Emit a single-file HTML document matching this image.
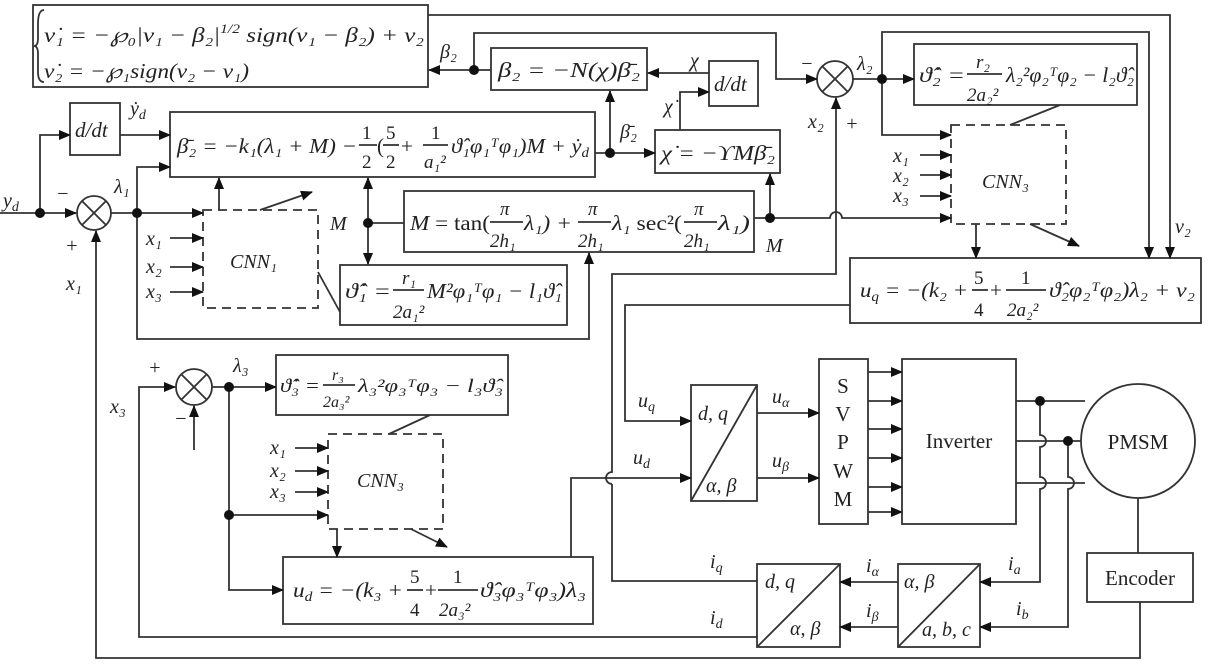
<!DOCTYPE html>
<html><head><meta charset="utf-8"><style>
html,body{margin:0;padding:0;background:#fff;}
svg{display:block;}
text{font-family:"Liberation Serif",serif;fill:#222;}
.i{font-style:italic;}
</style></head><body>
<svg width="1208" height="666" viewBox="0 0 1208 666" xmlns="http://www.w3.org/2000/svg">
<defs>
<marker id="a" markerWidth="12" markerHeight="10" refX="11" refY="5" orient="auto" markerUnits="userSpaceOnUse">
<path d="M0,0 L12,5 L0,10 Z" fill="#111"/></marker>
</defs>
<g stroke="#333" stroke-width="1.8" fill="none">
<!-- boxes -->
<rect x="33" y="5" width="395" height="82"/>
<rect x="491" y="48" width="156" height="42"/>
<rect x="709" y="61" width="49" height="45"/>
<rect x="655" y="130" width="125" height="43"/>
<rect x="70" y="103" width="50" height="52"/>
<rect x="170" y="112" width="425" height="65"/>
<rect x="404" y="191" width="350" height="61"/>
<rect x="340" y="265" width="227" height="60"/>
<rect x="914" y="44" width="223" height="61"/>
<rect x="850" y="258" width="351" height="65"/>
<rect x="276" y="355" width="232" height="60"/>
<rect x="283" y="557" width="310" height="67"/>
<rect x="691" y="385" width="66" height="116"/>
<rect x="819" y="359" width="49" height="165"/>
<rect x="902" y="359" width="114" height="165"/>
<rect x="757" y="564" width="83" height="83"/>
<rect x="898" y="564" width="82" height="83"/>
<rect x="1087" y="553" width="106" height="49"/>
<circle cx="1138" cy="441" r="57"/>
<line x1="691" y1="501" x2="757" y2="385"/>
<line x1="757" y1="647" x2="840" y2="564"/>
<line x1="898" y1="647" x2="980" y2="564"/>
<!-- dashed CNNs -->
<rect x="203" y="210" width="115" height="98" stroke-dasharray="9,6"/>
<rect x="951" y="125" width="115" height="99" stroke-dasharray="9,6"/>
<rect x="328" y="434" width="115" height="95" stroke-dasharray="9,6"/>
<!-- summers -->
<circle cx="94" cy="213" r="17"/><line x1="82" y1="201" x2="106" y2="225"/><line x1="106" y1="201" x2="82" y2="225"/>
<circle cx="835" cy="79" r="18"/><line x1="822" y1="66" x2="848" y2="92"/><line x1="848" y1="66" x2="822" y2="92"/>
<circle cx="194" cy="387" r="18"/><line x1="181" y1="374" x2="207" y2="400"/><line x1="207" y1="374" x2="181" y2="400"/>

<!-- top wiring -->
<polyline points="428,15 1170,15 1170,258" marker-end="url(#a)"/>
<polyline points="474,70 474,33 776,33 776,79 817,79" marker-end="url(#a)"/>
<line x1="491" y1="70" x2="429" y2="70" marker-end="url(#a)"/>
<line x1="709" y1="73" x2="648" y2="73" marker-end="url(#a)"/>
<polyline points="680,130 680,92 709,92" marker-end="url(#a)"/>
<line x1="610" y1="153" x2="610" y2="91" marker-end="url(#a)"/>
<line x1="595" y1="153" x2="655" y2="153" marker-end="url(#a)"/>
<line x1="770" y1="218" x2="770" y2="174" marker-end="url(#a)"/>
<line x1="754" y1="218" x2="770" y2="218"/>
<path d="M770,218 L830,218 A6,6 0 0 1 842,218 L951,218" marker-end="url(#a)"/>
<line x1="853" y1="79" x2="914" y2="79" marker-end="url(#a)"/>
<polyline points="882,79 882,32 1149,32 1149,258" marker-end="url(#a)"/>
<polyline points="882,79 882,135 951,135" marker-end="url(#a)"/>
<line x1="920" y1="155" x2="951" y2="155" marker-end="url(#a)"/>
<line x1="920" y1="175" x2="951" y2="175" marker-end="url(#a)"/>
<line x1="920" y1="196" x2="951" y2="196" marker-end="url(#a)"/>
<line x1="1060" y1="105" x2="1010" y2="125"/>
<line x1="976" y1="224" x2="976" y2="258" marker-end="url(#a)"/>
<line x1="1030" y1="224" x2="1079" y2="246" marker-end="url(#a)"/>
<!-- x2 / iq path -->
<polyline points="757,581 612,581 612,484"/>
<path d="M612,484 A6,6 0 0 1 612,472 L612,274 L836,274 L836,98" marker-end="url(#a)"/>
<!-- uq -->
<polyline points="850,305 625,305 625,421 691,421" marker-end="url(#a)"/>
<!-- left top -->
<line x1="0" y1="213" x2="76" y2="213" marker-end="url(#a)"/>
<polyline points="40,213 40,135 70,135" marker-end="url(#a)"/>
<line x1="120" y1="135" x2="170" y2="135" marker-end="url(#a)"/>
<line x1="111" y1="213" x2="203" y2="213" marker-end="url(#a)"/>
<polyline points="137,213 137,167 170,167" marker-end="url(#a)"/>
<polyline points="137,213 137,339 589,339 589,253" marker-end="url(#a)"/>
<line x1="170" y1="238" x2="203" y2="238" marker-end="url(#a)"/>
<line x1="170" y1="267" x2="203" y2="267" marker-end="url(#a)"/>
<line x1="170" y1="292" x2="203" y2="292" marker-end="url(#a)"/>
<line x1="219" y1="210" x2="219" y2="178" marker-end="url(#a)"/>
<line x1="260" y1="210" x2="312" y2="192" marker-end="url(#a)"/>
<line x1="318" y1="272" x2="340" y2="312"/>
<line x1="368" y1="223" x2="404" y2="223"/>
<line x1="368" y1="223" x2="368" y2="178" marker-end="url(#a)"/>
<line x1="368" y1="223" x2="368" y2="264" marker-end="url(#a)"/>
<!-- x1 feedback -->
<polyline points="1140,602 1140,658 96,658 96,231" marker-end="url(#a)"/>
<!-- bottom left -->
<polyline points="757,637 139,637 139,387 175,387" marker-end="url(#a)"/>
<line x1="194" y1="450" x2="194" y2="406" marker-end="url(#a)"/>
<line x1="212" y1="387" x2="276" y2="387" marker-end="url(#a)"/>
<polyline points="229,387 229,590 283,590" marker-end="url(#a)"/>
<line x1="229" y1="515" x2="328" y2="515" marker-end="url(#a)"/>
<line x1="295" y1="448" x2="328" y2="448" marker-end="url(#a)"/>
<line x1="295" y1="471" x2="328" y2="471" marker-end="url(#a)"/>
<line x1="295" y1="492" x2="328" y2="492" marker-end="url(#a)"/>
<line x1="430" y1="415" x2="389" y2="434"/>
<line x1="337" y1="529" x2="337" y2="557" marker-end="url(#a)"/>
<line x1="411" y1="529" x2="447" y2="547" marker-end="url(#a)"/>
<polyline points="571,557 571,478 691,478" marker-end="url(#a)"/>
<!-- drive -->
<line x1="757" y1="413" x2="819" y2="413" marker-end="url(#a)"/>
<line x1="757" y1="478" x2="819" y2="478" marker-end="url(#a)"/>
<line x1="868" y1="372" x2="902" y2="372" marker-end="url(#a)"/>
<line x1="868" y1="401" x2="902" y2="401" marker-end="url(#a)"/>
<line x1="868" y1="429" x2="902" y2="429" marker-end="url(#a)"/>
<line x1="868" y1="458" x2="902" y2="458" marker-end="url(#a)"/>
<line x1="868" y1="487" x2="902" y2="487" marker-end="url(#a)"/>
<line x1="868" y1="512" x2="902" y2="512" marker-end="url(#a)"/>
<line x1="1016" y1="401" x2="1085" y2="401"/>
<line x1="1016" y1="441" x2="1081" y2="441"/>
<line x1="1016" y1="483" x2="1085" y2="483"/>
<path d="M1040,401 L1040,435 A6,6 0 0 1 1040,447 L1040,477 A6,6 0 0 1 1040,489 L1040,582 L980,582" marker-end="url(#a)"/>
<path d="M1068,441 L1068,477 A6,6 0 0 1 1068,489 L1068,627 L980,627" marker-end="url(#a)"/>
<line x1="1138" y1="498" x2="1138" y2="553"/>
<line x1="898" y1="582" x2="840" y2="582" marker-end="url(#a)"/>
<line x1="898" y1="627" x2="840" y2="627" marker-end="url(#a)"/>
<!-- fraction bars -->
<line x1="359" y1="145" x2="377" y2="145"/><line x1="383" y1="145" x2="399" y2="145"/><line x1="423" y1="145" x2="448" y2="145"/>
<line x1="490" y1="222" x2="523" y2="222"/><line x1="578" y1="222" x2="611" y2="222"/><line x1="684" y1="222" x2="717" y2="222"/>
<line x1="393" y1="290" x2="424" y2="290"/>
<line x1="967" y1="74" x2="1002" y2="74"/>
<line x1="972" y1="290" x2="988" y2="290"/><line x1="1006" y1="290" x2="1046" y2="290"/>
<line x1="323" y1="385" x2="355" y2="385"/>
<line x1="407" y1="590" x2="423" y2="590"/><line x1="438" y1="590" x2="478" y2="590"/>
<path d="M44,10 Q38,10 38,24 L38,38 Q38,46 34,46 Q38,46 38,54 L38,72 Q38,82 44,82"/>
</g>
<g fill="#111">
<circle cx="474" cy="70" r="5"/><circle cx="610" cy="153" r="5"/><circle cx="770" cy="218" r="5"/>
<circle cx="882" cy="79" r="5"/><circle cx="40" cy="213" r="5"/><circle cx="137" cy="213" r="5"/>
<circle cx="368" cy="223" r="5"/><circle cx="229" cy="387" r="5"/><circle cx="229" cy="515" r="5"/>
<circle cx="1040" cy="401" r="5"/><circle cx="1068" cy="441" r="5"/>
</g>
<g font-size="21">
<text x="44" y="42" class="i" textLength="380" lengthAdjust="spacingAndGlyphs">ν̇₁ = −℘₀|ν₁ − β₂|<tspan font-size="13" dy="-9">1/2</tspan><tspan dy="9"> sign(ν₁ − β₂) + ν₂</tspan></text>
<text x="44" y="78" class="i" textLength="205" lengthAdjust="spacingAndGlyphs">ν̇₂ = −℘₁sign(ν₂ − ν₁)</text>
<text x="498" y="77" class="i" textLength="142" lengthAdjust="spacingAndGlyphs">β₂ = −N(χ)β̄₂</text>
<text x="714" y="91" class="i">d/dt</text>
<text x="75" y="137" class="i">d/dt</text>
<text x="661" y="160" class="i" textLength="114" lengthAdjust="spacingAndGlyphs">χ̇ = −ϒMβ̄₂</text>
<text x="177" y="153" class="i" textLength="180" lengthAdjust="spacingAndGlyphs">β̄₂ = −k₁(λ₁ + M) −</text>
<text x="362" y="139" font-size="19">1</text><text x="362" y="168" font-size="19">2</text>
<text x="377" y="153">(</text>
<text x="386" y="139" font-size="19">5</text><text x="386" y="168" font-size="19">2</text>
<text x="401" y="153">+</text>
<text x="431" y="139" font-size="19">1</text><text x="424" y="168" font-size="19" class="i">a₁²</text>
<text x="451" y="153" class="i" textLength="138" lengthAdjust="spacingAndGlyphs">ϑ̂₁φ₁ᵀφ₁)M + ẏ<tspan font-size="14" dy="4">d</tspan></text>
<text x="410" y="230" textLength="80" lengthAdjust="spacingAndGlyphs"><tspan class="i">M</tspan> = tan(</text>
<text x="500" y="215" font-size="19" class="i">π</text><text x="490" y="247" font-size="19" class="i">2h₁</text>
<text x="524" y="230" class="i" textLength="48" lengthAdjust="spacingAndGlyphs">λ₁) +</text>
<text x="588" y="215" font-size="19" class="i">π</text><text x="578" y="247" font-size="19" class="i">2h₁</text>
<text x="612" y="230" textLength="70" lengthAdjust="spacingAndGlyphs"><tspan class="i">λ₁</tspan> sec²(</text>
<text x="694" y="215" font-size="19" class="i">π</text><text x="684" y="247" font-size="19" class="i">2h₁</text>
<text x="718" y="230" class="i" textLength="32" lengthAdjust="spacingAndGlyphs">λ₁)</text>
<text x="345" y="298" class="i" textLength="46" lengthAdjust="spacingAndGlyphs">ϑ̂̇₁ =</text>
<text x="402" y="284" font-size="19" class="i">r₁</text><text x="393" y="318" font-size="19" class="i">2a₁²</text>
<text x="427" y="298" class="i" textLength="135" lengthAdjust="spacingAndGlyphs">M²φ₁ᵀφ₁ − l₁ϑ̂₁</text>
<text x="919" y="82" class="i" textLength="46" lengthAdjust="spacingAndGlyphs">ϑ̂̇₂ =</text>
<text x="976" y="68" font-size="19" class="i">r₂</text><text x="967" y="101" font-size="19" class="i">2a₂²</text>
<text x="1006" y="82" class="i" textLength="128" lengthAdjust="spacingAndGlyphs">λ₂²φ₂ᵀφ₂ − l₂ϑ̂₂</text>
<text x="860" y="297" class="i" textLength="108" lengthAdjust="spacingAndGlyphs">u<tspan font-size="14" dy="4">q</tspan><tspan dy="-4"> = −(k₂ +</tspan></text>
<text x="974" y="284" font-size="19">5</text><text x="974" y="316" font-size="19">4</text>
<text x="990" y="297">+</text>
<text x="1021" y="284" font-size="19">1</text><text x="1007" y="316" font-size="19" class="i">2a₂²</text>
<text x="1049" y="297" class="i" textLength="146" lengthAdjust="spacingAndGlyphs">ϑ̂₂φ₂ᵀφ₂)λ₂ + ν₂</text>
<text x="280" y="392" class="i" font-size="19" textLength="40" lengthAdjust="spacingAndGlyphs">ϑ̂̇₃ =</text>
<text x="332" y="380" font-size="16" class="i">r₃</text><text x="323" y="407" font-size="16" class="i">2a₃²</text>
<text x="358" y="392" class="i" font-size="19" textLength="145" lengthAdjust="spacingAndGlyphs">λ₃²φ₃ᵀφ₃ − l₃ϑ̂₃</text>
<text x="293" y="597" class="i" textLength="110" lengthAdjust="spacingAndGlyphs">u<tspan font-size="14" dy="4">d</tspan><tspan dy="-4"> = −(k₃ +</tspan></text>
<text x="410" y="583" font-size="19">5</text><text x="410" y="616" font-size="19">4</text>
<text x="425" y="597">+</text>
<text x="453" y="583" font-size="19">1</text><text x="439" y="616" font-size="19" class="i">2a₃²</text>
<text x="480" y="597" class="i" textLength="106" lengthAdjust="spacingAndGlyphs">ϑ̂₃φ₃ᵀφ₃)λ₃</text>
</g>
<g font-size="20" class="i">
<text x="3" y="207" class="i">y<tspan font-size="14" dy="4">d</tspan></text>
<text x="56" y="200">−</text><text x="65" y="252">+</text>
<text x="66" y="290" class="i">x₁</text>
<text x="114" y="193" class="i">λ₁</text>
<text x="130" y="115" class="i">ẏ<tspan font-size="14" dy="4">d</tspan></text>
<text x="146" y="245" class="i">x₁</text><text x="146" y="273" class="i">x₂</text><text x="146" y="298" class="i">x₃</text>
<text x="230" y="268" class="i">CNN₁</text>
<text x="330" y="230" class="i">M</text>
<text x="766" y="252" class="i">M</text>
<text x="440" y="58" class="i">β₂</text>
<text x="620" y="138" class="i">β̄₂</text>
<text x="664" y="113" class="i">χ̇</text>
<text x="690" y="67" class="i">χ</text>
<text x="800" y="70">−</text>
<text x="857" y="70" class="i">λ₂</text>
<text x="808" y="128" class="i">x₂</text><text x="845" y="130">+</text>
<text x="893" y="162" class="i">x₁</text><text x="893" y="182" class="i">x₂</text><text x="893" y="202" class="i">x₃</text>
<text x="982" y="188" class="i">CNN₃</text>
<text x="1175" y="233" class="i">ν₂</text>
<text x="148" y="374">+</text><text x="174" y="425">−</text>
<text x="110" y="413" class="i">x₃</text>
<text x="233" y="372" class="i">λ₃</text>
<text x="270" y="454" class="i">x₁</text><text x="270" y="477" class="i">x₂</text><text x="270" y="498" class="i">x₃</text>
<text x="357" y="487" class="i">CNN₃</text>
<text x="638" y="407" class="i">u<tspan font-size="14" dy="4">q</tspan></text>
<text x="633" y="464" class="i">u<tspan font-size="14" dy="4">d</tspan></text>
<text x="698" y="420" class="i">d, q</text><text x="706" y="492" class="i">α, β</text>
<text x="772" y="403" class="i">u<tspan font-size="14" dy="4">α</tspan></text>
<text x="772" y="467" class="i">u<tspan font-size="14" dy="4">β</tspan></text>
<text x="710" y="568" class="i">i<tspan font-size="14" dy="4">q</tspan></text>
<text x="710" y="624" class="i">i<tspan font-size="14" dy="4">d</tspan></text>
<text x="765" y="588" class="i">d, q</text><text x="790" y="635" class="i">α, β</text>
<text x="866" y="572" class="i">i<tspan font-size="14" dy="4">α</tspan></text>
<text x="866" y="617" class="i">i<tspan font-size="14" dy="4">β</tspan></text>
<text x="904" y="588" class="i">α, β</text><text x="922" y="636" class="i">a, b, c</text>
<text x="1008" y="570" class="i">i<tspan font-size="14" dy="4">a</tspan></text>
<text x="1016" y="615" class="i">i<tspan font-size="14" dy="4">b</tspan></text>
</g>
<g font-size="21" text-anchor="middle">
<text x="843" y="393">S</text><text x="843" y="421">V</text><text x="843" y="449">P</text><text x="843" y="478">W</text><text x="843" y="506">M</text>
<text x="959" y="448">Inverter</text>
<text x="1138" y="449">PMSM</text>
<text x="1140" y="585">Encoder</text>
</g>
</svg>
</body></html>
